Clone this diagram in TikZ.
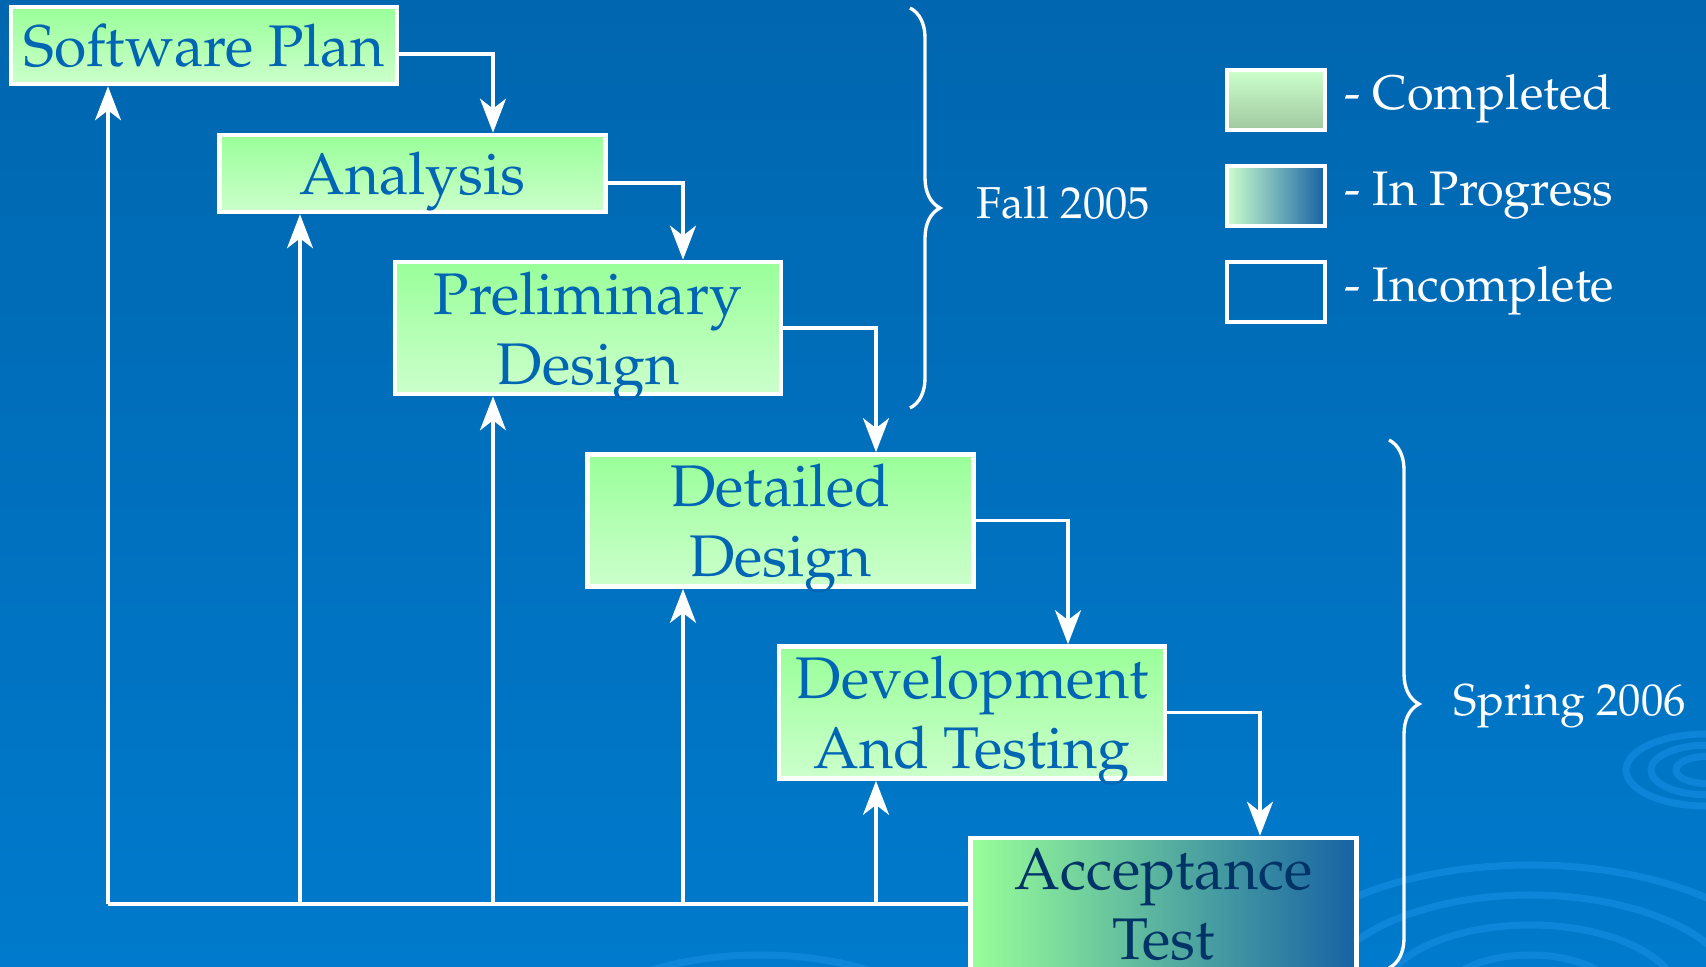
\documentclass[tikz,border=0pt]{standalone}
\usepackage[T1]{fontenc}
\usepackage{mathpazo}
\usepackage{xcolor}
\usepackage{tikz}
\usetikzlibrary{arrows.meta,decorations.pathreplacing}

\definecolor{bgtop}{RGB}{0,102,175}
\definecolor{bgbot}{RGB}{0,122,204}
\definecolor{boxtop}{RGB}{153,255,153}
\definecolor{boxbot}{RGB}{204,255,204}
\definecolor{boxtext}{RGB}{0,102,179}
\definecolor{nowtext}{RGB}{0,51,102}
\definecolor{nowblue}{RGB}{22,98,165}
\definecolor{donebot}{RGB}{160,200,160}
\definecolor{ripple}{RGB}{25,145,230}

\tikzset{
    phasebox/.style={draw=white, line width=1.3pt, inner sep=0pt, minimum width=3.86cm,
        align=center, text=boxtext, font=\fontsize{16.7}{19.9}\selectfont},
    oneline/.style={phasebox, minimum height=0.77cm, text height=0.42cm, text depth=0pt},
    twoline/.style={phasebox, minimum height=1.32cm, text depth=0pt},
    donefill/.style={top color=boxtop, bottom color=boxbot},
    busyfill/.style={left color=boxtop, right color=nowblue, text=nowtext},
    flow/.style={white, line width=0.95pt, -{Stealth[length=0.34cm, width=0.26cm, inset=0.1cm]}},
    feed/.style={white, line width=0.95pt},
    legbox/.style={draw=white, line width=1.3pt, minimum width=0.98cm, minimum height=0.6cm, inner sep=0pt},
    legtext/.style={white, anchor=base west, inner sep=0pt, font=\fontsize{13.8}{17}\selectfont},
    termtext/.style={white, anchor=base west, inner sep=0pt, font=\fontsize{12.7}{15}\selectfont},
    termbrace/.style={white, line width=0.95pt, decorate, decoration={brace, amplitude=0.3cm}}
}

\begin{document}
\begin{tikzpicture}[x=0.01cm, y=-0.01cm]
    \useasboundingbox (0,0) rectangle (1706,967);

    % Achtergrond
    \shade[top color=bgtop, bottom color=bgbot] (0,0) rectangle (1706,967);
    \begin{scope}[ripple, line width=2pt, opacity=0.55]
        \foreach \r in {90,150,210,270}
            \draw (1530,1000) ellipse ({\r} and {\r*0.5});
        \foreach \r in {30,55,80}
            \draw (1706,770) ellipse ({\r} and {\r*0.45});
        \draw (760,1050) ellipse (200 and 95);
        \draw (760,1050) ellipse (150 and 70);
    \end{scope}

    % Fasen
    \node[oneline, donefill] (plan) at (204,45.5) {Software Plan};
    \node[oneline, donefill] (anal) at (412.5,173.5) {Analysis};
    \node[twoline, donefill] (prel) at (588,328) {Preliminary\\Design};
    \node[twoline, donefill] (det) at (780.5,520.5) {Detailed\\Design};
    \node[twoline, donefill] (dev) at (972,712.5) {Development\\And Testing};
    \node[twoline, busyfill] (acc) at (1163.5,904) {Acceptance\\Test};

    % Kolommen van de pijlen
    \foreach \n/\x in {1/108, 2/300, 3/493, 4/683, 5/876, 6/1068, 7/1260}
        \coordinate (k\n) at (\x,904);

    % Naar de volgende fase
    \draw[flow] ([yshift=-0.085cm]plan.east) -| (anal.north -| k3);
    \draw[flow] ([yshift=-0.095cm]anal.east) -| (prel.north -| k4);
    \draw[flow] (prel.east) -| (det.north -| k5);
    \draw[flow] (det.east) -| (dev.north -| k6);
    \draw[flow] (dev.east) -| (acc.north -| k7);

    % Terugkoppeling
    \draw[feed] (acc.west) -- (k1);
    \foreach \k/\b in {k1/plan, k2/anal, k3/prel, k4/det, k5/dev}
        \draw[flow] (\k) -- (\k |- \b.south);

    % Semesters
    \coordinate (fallA) at (910,8);
    \coordinate (fallB) at (910,408);
    \draw[termbrace] (fallA) -- (fallB);
    \node[termtext] (fall) at (976,219) {Fall 2005};
    \coordinate (springA) at (1389,440);
    \coordinate (springB) at (1389,968);
    \draw[termbrace] (springA) -- (springB);
    \node[termtext] (spring) at (1453,715) {Spring 2006};

    % Legenda
    \node[legbox, top color=boxbot, bottom color=donebot] (lgdone) at (1276,100) {};
    \node[legbox, left color=boxbot, right color=nowblue] (lgbusy) at (1276,196) {};
    \node[legbox] (lgopen) at (1276,292) {};
    \node[legtext] (txdone) at (1344,110) {- Completed};
    \node[legtext] (txbusy) at (1344,206) {- In Progress};
    \node[legtext] (txopen) at (1344,302) {- Incomplete};
\end{tikzpicture}
\end{document}
